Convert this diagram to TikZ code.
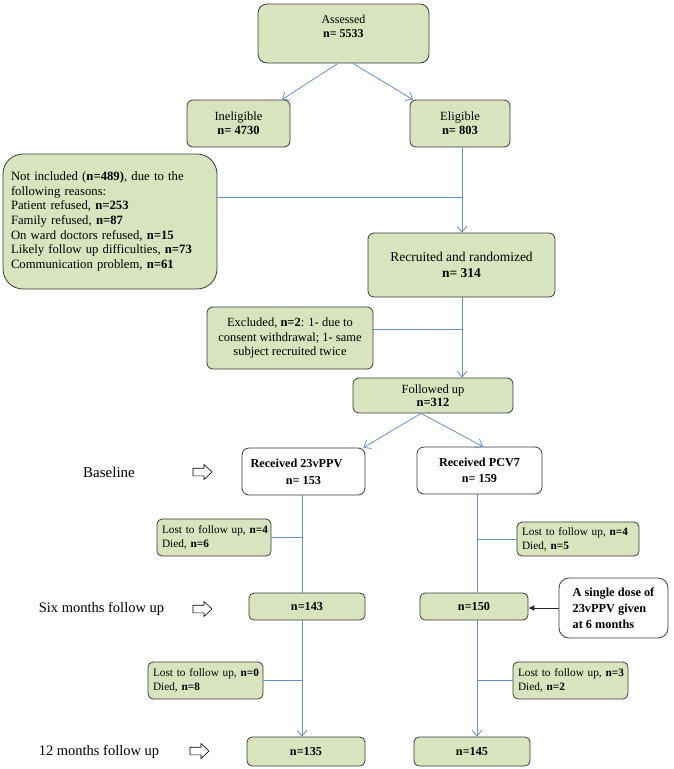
\documentclass[tikz,border=0pt]{standalone}
\usepackage{fontspec}
\setmainfont{Liberation Serif}
\usetikzlibrary{arrows.meta,calc}
\definecolor{boxgreen}{HTML}{D7E4BD}
\definecolor{connblue}{HTML}{6690CA}
\definecolor{boxline}{HTML}{3A3A3A}
\tikzset{
  gbox/.style={draw=boxline, line width=0.8pt, fill=boxgreen, rounded corners=6pt, inner sep=2pt, align=center, font=\fontsize{12.5}{14.2}\selectfont},
  wbox/.style={gbox, fill=white},
  lostbox/.style={gbox, rounded corners=5pt, align=left, inner xsep=5pt, font=\fontsize{11.3}{14}\selectfont},
  nbox/.style={gbox, rounded corners=5pt, font=\bfseries\fontsize{12.2}{14}\selectfont},
  conn/.style={draw=connblue, line width=0.8pt},
  arr/.style={conn, -{Straight Barb[length=6pt,width=10pt]}},
  sidelab/.style={font=\fontsize{14.5}{17}\selectfont, inner sep=0pt},
  barrow/.pic={\draw[black, line width=0.6pt, fill=white] (0,-3.8) -- (11,-3.8) -- (11,-7.5) -- (19,0) -- (11,7.5) -- (11,3.8) -- (0,3.8) -- cycle;}
}
\begin{document}
\begin{tikzpicture}[x=1pt,y=-1pt]
\useasboundingbox (0,0) rectangle (673,769);

% boxes
\node[gbox, rounded corners=9pt, minimum width=171, minimum height=59] (assessed) at (343.5,33.5) {};
\node[align=center, inner sep=0pt, font=\fontsize{12}{14}\selectfont] (assessedtxt) at (343.5,26.5) {Assessed\\\textbf{n= 5533}};
\node[gbox, minimum width=103, minimum height=47] (inelig) at (238.5,123.5) {Ineligible\\\textbf{n= 4730}};
\node[gbox, minimum width=100, minimum height=47] (elig) at (460,123.5) {Eligible\\\textbf{n= 803}};
\node[gbox, rounded corners=20pt, minimum height=135, text width=198pt, inner xsep=8pt, align=left, font=\fontsize{12.7}{14.7}\selectfont] (notinc) at (110,221.5)
  {Not included (\textbf{n=489)}, due to the\\following reasons:\\Patient refused, \textbf{n=253}\\Family refused, \textbf{n=87}\\On ward doctors refused, \textbf{n=15}\\Likely follow up difficulties, \textbf{n=73}\\Communication problem, \textbf{n=61}};
\node[gbox, minimum width=187, minimum height=64, font=\fontsize{13.5}{15.5}\selectfont] (recr) at (461.5,265) {Recruited and randomized\\\textbf{n= 314}};
\node[gbox, minimum width=166, minimum height=62] (excl) at (290,338) {Excluded, \textbf{n=2}: 1- due to\\consent withdrawal; 1- same\\subject recruited twice};
\node[gbox, minimum width=160, minimum height=35, font=\fontsize{12.5}{13.5}\selectfont] (foll) at (433,395.5) {Followed up\\\textbf{n=312}};
\node[wbox, rounded corners=7pt, minimum width=123, minimum height=47, font=\bfseries\fontsize{12.2}{17}\selectfont] (rec23) at (303.5,471.5) {Received 23vPPV\hspace*{14pt}\\n= 153};
\node[wbox, rounded corners=7pt, minimum width=125, minimum height=47, font=\bfseries\fontsize{12.2}{16}\selectfont] (pcv) at (479.5,470.5) {Received PCV7\\n= 159};

\node[lostbox, text width=104pt, minimum height=37] (lost1) at (214,537.5) {\mbox{Lost to follow up, \textbf{n=4}}\\Died, \textbf{n=6}};
\node[lostbox, text width=112pt, minimum height=34] (lost2) at (578,539) {\mbox{Lost to follow up, \textbf{n=4}}\\Died, \textbf{n=5}};
\node[nbox, minimum width=116, minimum height=27] (n143) at (307,606.5) {n=143};
\node[nbox, minimum width=108, minimum height=27] (n150) at (474,606.5) {n=150};
\node[wbox, rounded corners=10pt, minimum width=109, minimum height=60, align=left, font=\bfseries\fontsize{12.3}{16}\selectfont] (sd) at (613.5,608) {A single dose of\\23vPPV given\\at 6 months};
\node[lostbox, text width=105pt, minimum height=37] (lost3) at (205.5,680.5) {\mbox{Lost to follow up, \textbf{n=0}}\\Died, \textbf{n=8}};
\node[lostbox, text width=105pt, minimum height=37] (lost4) at (570.5,680.5) {\mbox{Lost to follow up, \textbf{n=3}}\\Died, \textbf{n=2}};
\node[nbox, minimum width=118, minimum height=29] (n135) at (306,751.5) {n=135};
\node[nbox, minimum width=116, minimum height=29] (n145) at (472,751.5) {n=145};

% side labels
\node[sidelab, font=\fontsize{15}{17}\selectfont] (lbase) at (109,472) {Baseline};
\node[sidelab] (lsix) at (101.5,609) {Six months follow up};
\node[sidelab] (ltwelve) at (99,752) {12 months follow up};
\pic at (193,472) {barrow};
\pic at (193,609) {barrow};
\pic at (190,751) {barrow};

% connectors
\coordinate (colM) at (462,0);
\coordinate (colL) at (302,0);
\coordinate (colR) at (477,0);
\coordinate (j1) at (462,197);
\coordinate (j2) at (462,329);
\draw[arr] ($(assessed.south)+(-5.5,0)$) -- ($(inelig.north)+(43.5,0)$);
\draw[arr] ($(assessed.south)+(9.5,0)$) -- ($(elig.north)+(-47,0)$);
\draw[arr] (elig.south -| colM) -- (recr.north -| colM);
\draw[conn] (notinc.east |- j1) -- (j1);
\draw[arr] (recr.south -| colM) -- (foll.north -| colM);
\draw[conn] (excl.east |- j2) -- (j2);
\draw[arr] ($(foll.south)+(-12,0)$) -- ($(rec23.north east)+(-2,0)$);
\draw[arr] ($(foll.south)+(-12,0)$) -- ($(pcv.north)+(3.5,0)$);
\draw[conn] (rec23.south -| colL) -- (n143.north -| colL);
\draw[conn] (lost1.east) -- (lost1.east -| colL);
\draw[arr] (n143.south -| colL) -- (n135.north -| colL);
\draw[conn] (lost3.east) -- (lost3.east -| colL);
\draw[conn] (pcv.south -| colR) -- (n150.north -| colR);
\draw[conn] (lost2.west) -- (lost2.west -| colR);
\draw[arr] (n150.south -| colR) -- (n145.north -| colR);
\draw[conn] (lost4.west) -- (lost4.west -| colR);
\draw[-{Latex[length=6pt,width=6pt]}, line width=0.9pt, black!85] (sd.west) -- (sd.west -| n150.east);
\end{tikzpicture}
\end{document}
